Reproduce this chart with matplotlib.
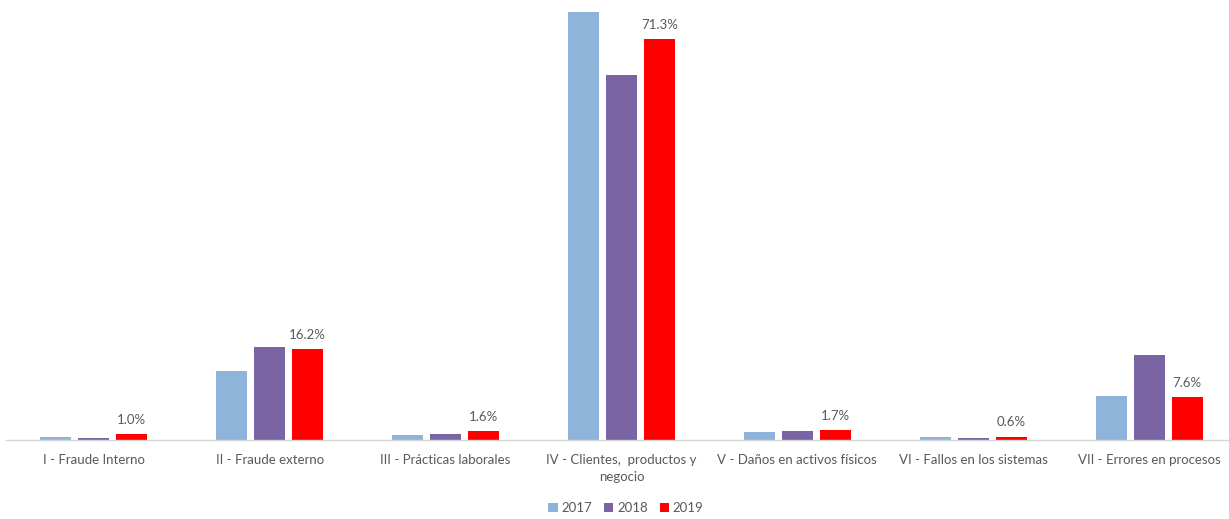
import matplotlib
matplotlib.use("Agg")
import matplotlib.pyplot as plt
import numpy as np

categories = ["I - Fraude Interno", "II - Fraude externo", "III - Prácticas laborales",
              "IV - Clientes,  productos y\nnegocio", "V - Daños en activos físicos",
              "VI - Fallos en los sistemas", "VII - Errores en procesos"]
series_names = ["2017", "2018", "2019"]
v2017 = [0.55, 12.2, 0.9, 76.1, 1.4, 0.6, 7.8]
v2018 = [0.3, 16.6, 1.0, 64.9, 1.55, 0.3, 15.1]
v2019 = [1.0, 16.2, 1.6, 71.3, 1.7, 0.6, 7.6]
labels2019 = ["1.0%", "16.2%", "1.6%", "71.3%", "1.7%", "0.6%", "7.6%"]
colors = ["#8EB4DA", "#7B64A3", "#FF0000"]

plt.rcParams['font.family'] = ['Lato', 'DejaVu Sans']
W, H = 1229, 519
fig = plt.figure(figsize=(W/100, H/100), dpi=100)
ax_left = 6 / W
ax_right = 1237 / W
ax_bottom = 1 - 440 / H
ax = fig.add_axes([ax_left, ax_bottom, ax_right - ax_left, 1 - ax_bottom])

x = np.arange(len(categories))
bw = 0.176
step = 0.216
allvals = [v2017, v2018, v2019]
for i, (vals, name, c) in enumerate(zip(allvals, series_names, colors)):
    ax.bar(x + (i - 1) * step, vals, width=bw, color=c, label=name, zorder=2)

for xi, v, lab in zip(x, v2019, labels2019):
    ax.annotate(lab, (xi + step, v), xytext=(0, 6), textcoords="offset points",
                ha="center", va="bottom", fontsize=9.5, color="#595959")

ax.set_xlim(-0.5, len(categories) - 0.5)
ax.set_ylim(0, 440 / 5.62)
ax.set_yticks([])
ax.set_xticks(x)
ax.set_xticklabels(categories, fontsize=9.5, color="#595959", linespacing=1.55)
ax.tick_params(axis="x", length=0, pad=10)
for s in ["top", "right", "left"]:
    ax.spines[s].set_visible(False)
ax.spines["bottom"].set_color("#D9D9D9")
ax.spines["bottom"].set_linewidth(1)

leg = fig.legend(loc="center", bbox_to_anchor=(626 / W, 1 - 508 / H), ncol=3, frameon=False,
                 fontsize=9.5, handlelength=0.7, handleheight=0.7, handletextpad=0.3,
                 columnspacing=0.9, labelcolor="#595959")

fig.savefig("out.png", dpi=100)
